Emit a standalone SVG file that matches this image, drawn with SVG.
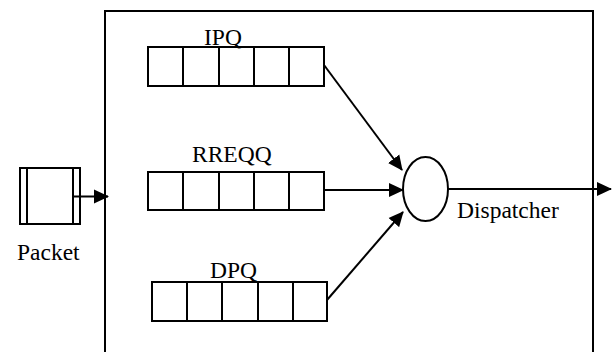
<svg xmlns="http://www.w3.org/2000/svg" width="612" height="352" viewBox="0 0 612 352">
  <style>
    .ln { fill: none; stroke: #000; stroke-width: 2; }
    .bx { fill: #fff; stroke: #000; stroke-width: 2; }
    .lbl { font-family: "Liberation Serif", "Times New Roman", serif; font-size: 23.5px; fill: #000; }
  </style>
  <defs>
    <marker id="arrow" markerUnits="userSpaceOnUse" markerWidth="16" markerHeight="16" viewBox="0 0 16 16" refX="14" refY="8" orient="auto">
      <path d="M0,1 L15,8 L0,15 Z" fill="#000"/>
    </marker>
  </defs>

  <!-- enclosing router box -->
  <g id="router">
    <rect class="ln" x="105" y="11" width="488" height="360"/>
  </g>

  <!-- incoming packet -->
  <g id="packet">
    <rect class="bx" x="20" y="168" width="60" height="56"/>
    <line class="ln" x1="27" y1="168" x2="27" y2="224"/>
    <line class="ln" x1="73" y1="168" x2="73" y2="224"/>
    <text class="lbl" x="17" y="260">Packet</text>
  </g>

  <!-- IP queue -->
  <g id="ipq">
    <rect class="bx" x="148" y="47" width="176" height="39"/>
    <line class="ln" x1="183" y1="47" x2="183" y2="86"/>
    <line class="ln" x1="219" y1="47" x2="219" y2="86"/>
    <line class="ln" x1="254" y1="47" x2="254" y2="86"/>
    <line class="ln" x1="289" y1="47" x2="289" y2="86"/>
    <text class="lbl" x="204" y="45">IPQ</text>
  </g>

  <!-- route request queue -->
  <g id="rreqq">
    <rect class="bx" x="148" y="172" width="176" height="38"/>
    <line class="ln" x1="183" y1="172" x2="183" y2="210"/>
    <line class="ln" x1="219" y1="172" x2="219" y2="210"/>
    <line class="ln" x1="254" y1="172" x2="254" y2="210"/>
    <line class="ln" x1="289" y1="172" x2="289" y2="210"/>
    <text class="lbl" x="192" y="162">RREQQ</text>
  </g>

  <!-- data packet queue -->
  <g id="dpq">
    <rect class="bx" x="152" y="282" width="175" height="39"/>
    <line class="ln" x1="187" y1="282" x2="187" y2="321"/>
    <line class="ln" x1="222" y1="282" x2="222" y2="321"/>
    <line class="ln" x1="258" y1="282" x2="258" y2="321"/>
    <line class="ln" x1="293" y1="282" x2="293" y2="321"/>
    <text class="lbl" x="210" y="278">DPQ</text>
  </g>

  <!-- dispatcher -->
  <g id="dispatcher">
    <ellipse class="bx" cx="425.5" cy="189" rx="22.5" ry="32"/>
    <text class="lbl" x="457" y="218">Dispatcher</text>
  </g>

  <!-- connectors -->
  <g id="connectors">
    <line class="ln" x1="73" y1="196.5" x2="108" y2="196.5" marker-end="url(#arrow)"/>
    <line class="ln" x1="324" y1="65" x2="402" y2="170" marker-end="url(#arrow)"/>
    <line class="ln" x1="324" y1="190" x2="403" y2="190" marker-end="url(#arrow)"/>
    <line class="ln" x1="327" y1="300" x2="403" y2="212" marker-end="url(#arrow)"/>
    <line class="ln" x1="448" y1="189" x2="611" y2="189" marker-end="url(#arrow)"/>
  </g>
</svg>
